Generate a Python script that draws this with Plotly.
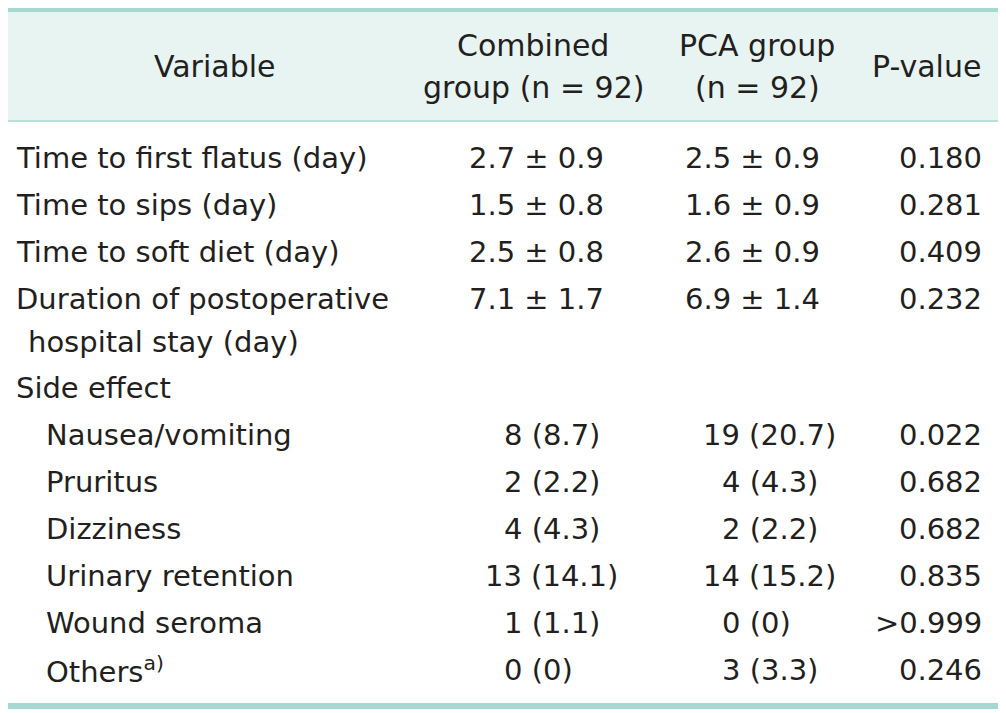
import plotly.graph_objects as go

# ---- data ----
cont_vars = ["Time to first flatus (day)", "Time to sips (day)", "Time to soft diet (day)",
             "Duration of postoperative|hospital stay (day)"]
comb_mean = [2.7, 1.5, 2.5, 7.1]
comb_sd = [0.9, 0.8, 0.8, 1.7]
pca_mean = [2.5, 1.6, 2.6, 6.9]
pca_sd = [0.9, 0.9, 0.9, 1.4]
p_cont = ["0.180", "0.281", "0.409", "0.232"]

side_title = "Side effect"
side_vars = ["Nausea/vomiting", "Pruritus", "Dizziness", "Urinary retention", "Wound seroma",
             "Others<sup>a)</sup>"]
comb_n = [8, 2, 4, 13, 1, 0]
comb_pct = [8.7, 2.2, 4.3, 14.1, 1.1, 0]
pca_n = [19, 4, 2, 14, 0, 3]
pca_pct = [20.7, 4.3, 2.2, 15.2, 0, 3.3]
p_side = ["0.022", "0.682", "0.682", "0.835", ">0.999", "0.246"]

headers = [["Variable"], ["Combined", "group (n = 92)"], ["PCA group", "(n = 92)"], ["P-value"]]

# ---- style ----
OFF = 8  # default page body margin
W, H = 1006 - OFF, 713 - OFF
FONT = "DejaVu Sans"
FS = 29
FS_HEAD = 30
TXT = "#231f20"
TEAL = "#a5d8ce"
HEAD_BG = "#e8f4f2"
LINE2 = "#b9e0d8"

x_left, x_right = 7, 1000
x_var, x_sub, x_wrap = 14, 44, 26
x_comb_c, x_pca_c = 536, 752
x_comb_l, x_pca_l = 483, 701
digit_w = 18.5
x_p_r = 984

head_x = [214, 533, 757, 926]
head_y1 = 66
head_y2 = [45, 87]

row_y0 = 158
row_h = 47
wrap_h = 43

def fmt_pct(v):
    return "0" if v == 0 else f"{v:.1f}"

def fmt_n(n, pct):
    return f"{n} ({fmt_pct(pct)})"

ann = []

def add(text, x, y, xanchor="left", size=FS):
    ann.append(dict(text=text, x=x, y=y, xref="x", yref="y", xanchor=xanchor, yanchor="middle",
                    showarrow=False, align="center",
                    font=dict(family=FONT, size=size, color=TXT)))

# headers
for hx, lines in zip(head_x, headers):
    if len(lines) == 1:
        add(lines[0], hx, head_y1, "center", FS_HEAD)
    else:
        for ln, hy in zip(lines, head_y2):
            add(ln, hx, hy, "center", FS_HEAD)

y = row_y0
for i, v in enumerate(cont_vars):
    parts = v.split("|")
    add(parts[0], x_var, y)
    add(f"{comb_mean[i]:.1f} ± {comb_sd[i]:.1f}", x_comb_c, y, "center")
    add(f"{pca_mean[i]:.1f} ± {pca_sd[i]:.1f}", x_pca_c, y, "center")
    add(p_cont[i], x_p_r, y, "right")
    if len(parts) > 1:
        y += wrap_h
        add(parts[1], x_wrap, y)
    y += row_h if len(parts) == 1 else 46

add(side_title, x_var, y)
y += row_h
maxd_c = max(len(str(n)) for n in comb_n)
maxd_p = max(len(str(n)) for n in pca_n)
for i, v in enumerate(side_vars):
    add(v, x_sub, y)
    add(fmt_n(comb_n[i], comb_pct[i]), x_comb_l + (maxd_c - len(str(comb_n[i]))) * digit_w, y)
    add(fmt_n(pca_n[i], pca_pct[i]), x_pca_l + (maxd_p - len(str(pca_n[i]))) * digit_w, y)
    add(p_side[i], x_p_r, y, "right")
    y += row_h

shapes = [
    dict(type="rect", x0=x_left, x1=x_right, y0=12, y1=120, xref="x", yref="y",
         fillcolor=HEAD_BG, line=dict(width=0), layer="below"),
    dict(type="rect", x0=x_left, x1=x_right, y0=6, y1=12, xref="x", yref="y",
         fillcolor=TEAL, line=dict(width=0)),
    dict(type="rect", x0=x_left, x1=x_right, y0=120, y1=122, xref="x", yref="y",
         fillcolor=LINE2, line=dict(width=0)),
    dict(type="rect", x0=x_left, x1=x_right, y0=703, y1=709, xref="x", yref="y",
         fillcolor=TEAL, line=dict(width=0)),
]

fig = go.Figure()
fig.update_layout(
    width=W, height=H, margin=dict(l=0, r=0, t=0, b=0),
    paper_bgcolor="white", plot_bgcolor="white",
    xaxis=dict(range=[OFF, 1006], visible=False, fixedrange=True),
    yaxis=dict(range=[713, OFF], visible=False, fixedrange=True),
    annotations=ann, shapes=shapes, showlegend=False,
)
fig.write_html("out.html")
